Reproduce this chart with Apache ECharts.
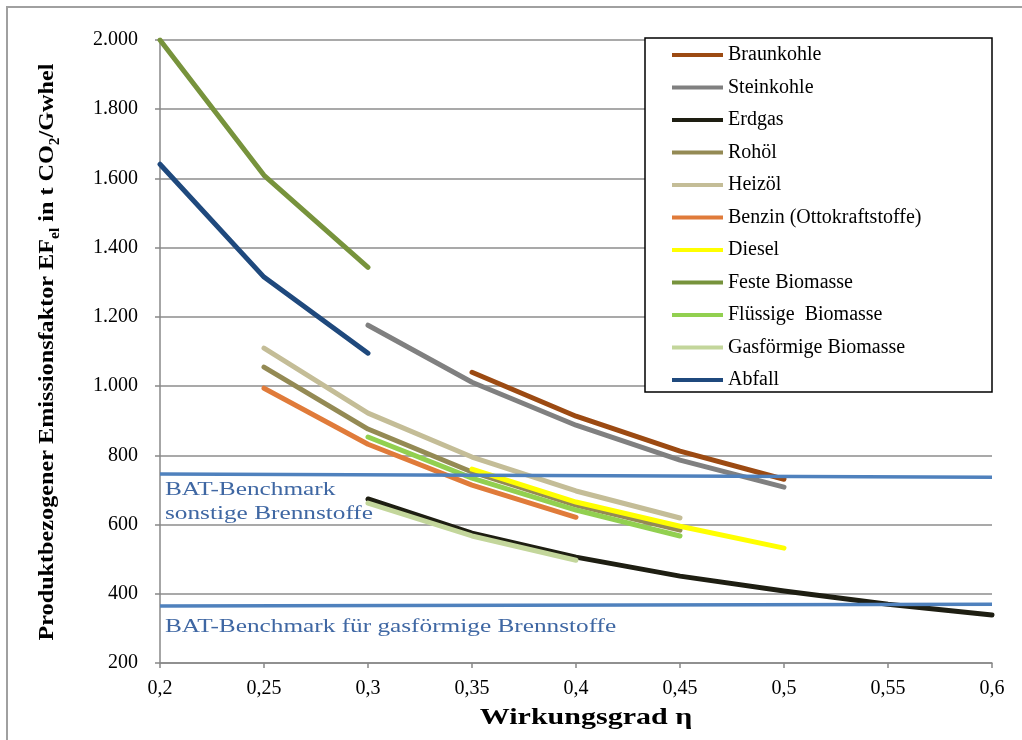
<!DOCTYPE html>
<html>
<head>
<meta charset="utf-8">
<script src="https://cdn.jsdelivr.net/npm/echarts@6/dist/echarts.min.js"></script>
<style>html,body{margin:0;padding:0;background:#fff;}#chart{width:1022px;height:740px;}</style>
</head>
<body>
<div id="chart"></div>
<script>
// Wirkungsgrad (x values)
const eta = [0.2, 0.25, 0.3, 0.35, 0.4, 0.45, 0.5, 0.55, 0.6];
// Emissionsfaktor values per fuel (t CO2/GWhel), aligned with eta
const braunkohle = [null, null, null, 1040, 913, 812, 731, null, null];
const steinkohle = [null, null, 1176, 1011, 887, 786, 708, null, null];
const erdgas     = [null, null, 674, 575, 506, 451, 408, 370, 339];
const rohoel     = [null, 1055, 876, 752, 656, 584, null, null, null];
const heizoel    = [null, 1110, 922, 795, 697, 619, null, null, null];
const benzin     = [null, 994, 832, 714, 621, null, null, null, null];
const diesel     = [null, null, null, 760, 665, 595, 532, null, null];
const festeBio   = [2000, 1609, 1343, null, null, null, null, null, null];
const fluessigBio= [null, null, 853, 734, 642, 567, null, null, null];
const gasBio     = [null, null, 662, 567, 497, null, null, null, null];
const abfall     = [1641, 1315, 1095, null, null, null, null, null, null];
// BAT benchmarks
const batSonstige = [746, null, null, null, null, null, null, null, 737];
const batGas      = [365, null, null, null, null, null, null, null, 370];

const seriesNames = ['Braunkohle','Steinkohle','Erdgas','Rohöl','Heizöl','Benzin (Ottokraftstoffe)','Diesel','Feste Biomasse','Flüssige  Biomasse','Gasförmige Biomasse','Abfall'];
const seriesValues = [braunkohle, steinkohle, erdgas, rohoel, heizoel, benzin, diesel, festeBio, fluessigBio, gasBio, abfall];
const seriesColors = ['#9C4A12','#808080','#1E1E12','#948A54','#C4BD97','#E07B3A','#FFFF00','#77933C','#92D050','#C3D69B','#1F497D'];

const yTicks = [200, 400, 600, 800, 1000, 1200, 1400, 1600, 1800, 2000];

const serif = '"Liberation Serif", "Times New Roman", serif';
const toPairs = vals => eta.map((x, i) => [x, vals[i]]);

const series = seriesNames.map((n, i) => ({
  name: n, type: 'line', data: toPairs(seriesValues[i]),
  showSymbol: false, symbol: 'none',
  lineStyle: { color: seriesColors[i], width: 5, cap: 'round', join: 'round' },
  itemStyle: { color: seriesColors[i] },
  silent: true, animation: false
}));
series.push({
  name: 'BAT sonstige', type: 'line', data: toPairs(batSonstige), connectNulls: true,
  showSymbol: false, symbol: 'none', lineStyle: { color: '#4F81BD', width: 3.5 }, animation: false
});
series.push({
  name: 'BAT gas', type: 'line', data: toPairs(batGas), connectNulls: true,
  showSymbol: false, symbol: 'none', lineStyle: { color: '#4F81BD', width: 3.5 }, animation: false
});

const fmtY = v => v >= 1000 ? Math.floor(v / 1000) + '.' + String(v % 1000).padStart(3, '0') : String(v);
const fmtX = v => String(parseFloat(v.toFixed(2))).replace('.', ',');

const chart = echarts.init(document.getElementById('chart'));
chart.setOption({
  backgroundColor: '#fff',
  animation: false,
  grid: { left: 160, right: 30, top: 40, bottom: 77 },
  legend: {
    data: seriesNames,
    orient: 'vertical', left: 667, top: 40, z: 10,
    icon: 'rect', itemWidth: 51, itemHeight: 4, itemGap: 12.5,
    textStyle: { fontFamily: serif, fontSize: 20, color: '#000', lineHeight: 20 },
    selectedMode: false
  },
  xAxis: {
    type: 'value', min: 0.2, max: 0.6, interval: 0.05,
    axisLine: { show: true, lineStyle: { color: '#888', width: 1.5 } },
    axisTick: { show: true, length: 5, lineStyle: { color: '#888', width: 1.5 } },
    axisLabel: { fontFamily: serif, fontSize: 20, color: '#000', margin: 16, formatter: fmtX },
    splitLine: { show: false }
  },
  yAxis: {
    type: 'value', min: yTicks[0], max: yTicks[yTicks.length - 1], interval: 200,
    axisLine: { show: true, lineStyle: { color: '#888', width: 1.5 } },
    axisTick: { show: true, length: 5, lineStyle: { color: '#888', width: 1.5 } },
    axisLabel: { fontFamily: serif, fontSize: 20, color: '#000', margin: 22, formatter: fmtY },
    splitLine: { show: true, lineStyle: { color: '#8c8c8c', width: 1.5 } }
  },
  graphic: [
    { type: 'rect', shape: { x: 7, y: 7, width: 1040, height: 760 }, style: { fill: 'none', stroke: '#a0a0a0', lineWidth: 2 }, silent: true, z: 0 },
    { type: 'rect', shape: { x: 645, y: 38, width: 347, height: 354 }, style: { fill: '#fff', stroke: '#000', lineWidth: 1.5 }, silent: true, z: 3 },
    { type: 'text', x: 165, y: 490, scaleX: 1.33, z: 60, silent: true,
      style: { text: 'BAT-Benchmark', font: '19px ' + serif, fill: '#3F67A3', verticalAlign: 'middle' } },
    { type: 'text', x: 165, y: 514, scaleX: 1.33, z: 60, silent: true,
      style: { text: 'sonstige Brennstoffe', font: '19px ' + serif, fill: '#3F67A3', verticalAlign: 'middle' } },
    { type: 'text', x: 165, y: 627, scaleX: 1.33, z: 60, silent: true,
      style: { text: 'BAT-Benchmark für gasförmige Brennstoffe', font: '19px ' + serif, fill: '#3F67A3', verticalAlign: 'middle' } },
    { type: 'text', x: 586, y: 718, scaleX: 1.25, z: 60, silent: true,
      style: { text: 'Wirkungsgrad η', font: 'bold 24px ' + serif, fill: '#000', align: 'center', verticalAlign: 'middle' } },
    { type: 'text', x: 47, y: 352, rotation: Math.PI / 2, scaleX: 1.1, z: 60, silent: true,
      style: {
        text: '{b|Produktbezogener Emissionsfaktor EF}{s|el}{b| in t CO}{s|2}{b|/Gwhel}',
        align: 'center', verticalAlign: 'middle',
        rich: {
          b: { fontFamily: serif, fontSize: 22, fontWeight: 'bold', fill: '#000', lineHeight: 30 },
          s: { fontFamily: serif, fontSize: 14, fontWeight: 'bold', fill: '#000', lineHeight: 14, verticalAlign: 'bottom' }
        }
      } }
  ],
  series: series
});
</script>
</body>
</html>
